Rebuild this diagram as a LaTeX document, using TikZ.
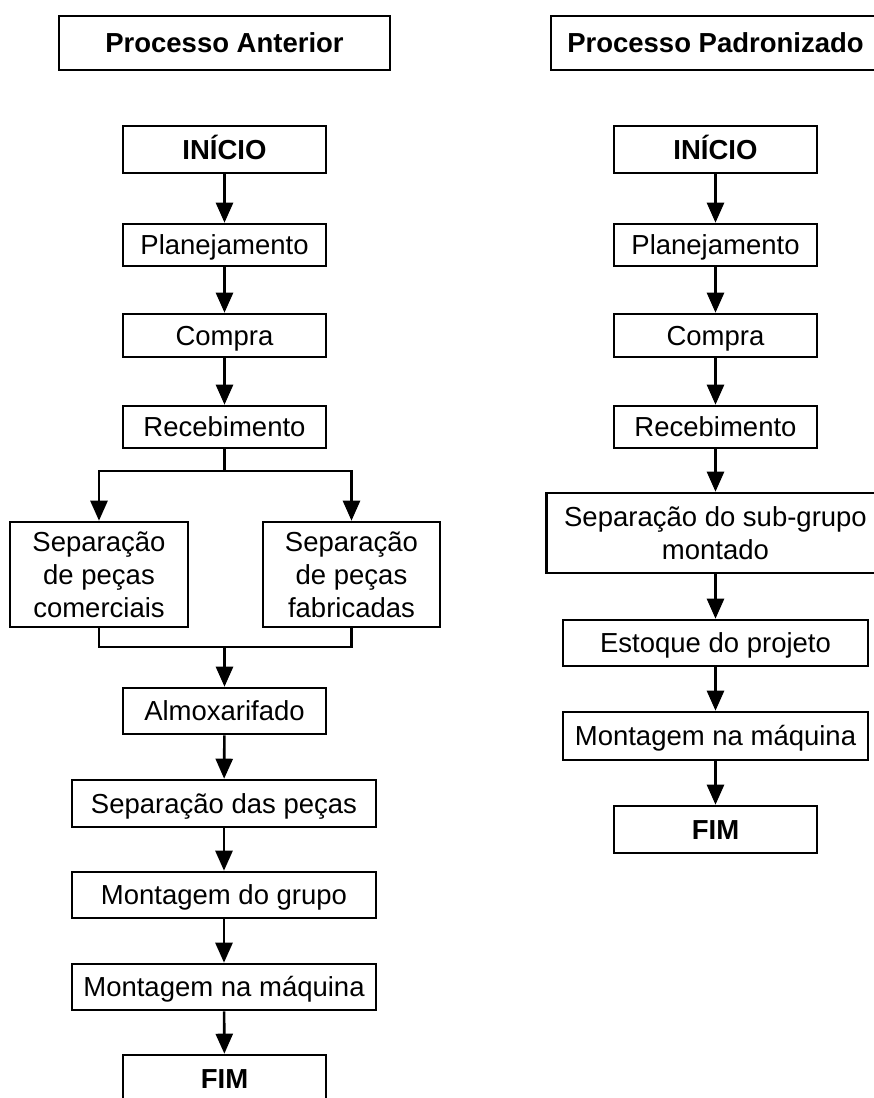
\documentclass[tikz,border=0pt]{standalone}
\usepackage{fontspec}
\setmainfont{Liberation Sans}
\usetikzlibrary{arrows.meta}

\tikzset{
  box/.style={draw, line width=2.6pt, inner sep=0pt, align=center,
    font=\fontsize{27.5}{33}\selectfont},
  oneline/.style={box, text height=19.7pt, text depth=0pt},
  boldbox/.style={oneline, font=\fontsize{27.5}{33}\selectfont\bfseries},
  arr/.style={-{Triangle[length=20pt,width=17pt]}},
  conn/.style={line width=2.6pt}
}

\begin{document}
\begin{tikzpicture}[x=1pt, y=-1pt]
\clip (0,0) rectangle (874,1098);
\fill[white] (0,0) rectangle (874,1098);

% Left flow: previous process
\node[boldbox, minimum width=331pt, minimum height=54pt] (titleA) at (224.5,43) {Processo Anterior};
\node[boldbox, minimum width=203pt, minimum height=47pt] (startA) at (224.5,149.5) {INÍCIO};
\node[oneline, minimum width=203pt, minimum height=42pt] (planA) at (224.5,245) {Planejamento};
\node[oneline, minimum width=203pt, minimum height=43pt] (compA) at (224.5,335.5) {Compra};
\node[oneline, minimum width=203pt, minimum height=42pt] (recA) at (224.5,427) {Recebimento};
\node[box, minimum width=178pt, minimum height=105pt] (comA) at (99,574.5) {Separação\\de peças\\comerciais};
\node[box, minimum width=177pt, minimum height=105pt] (fabA) at (351.5,574.5) {Separação\\de peças\\fabricadas};
\node[oneline, minimum width=203pt, minimum height=46pt] (almA) at (224.5,711) {Almoxarifado};
\node[oneline, minimum width=304pt, minimum height=47pt] (sepA) at (224,803.5) {Separação das peças};
\node[oneline, minimum width=304pt, minimum height=46pt] (mgA) at (224,895) {Montagem do grupo};
\node[oneline, minimum width=304pt, minimum height=46pt] (mmA) at (224,987) {Montagem na máquina};
\node[boldbox, minimum width=203pt, minimum height=47pt] (fimA) at (224.5,1078.5) {FIM};

\coordinate (splitA) at (224.5,471);
\coordinate (joinA) at (224.5,647);

\begin{scope}[conn]
\draw[arr] (startA) -- (planA);
\draw[arr] (planA) -- (compA);
\draw[arr] (compA) -- (recA);
\draw (recA.south) -- (splitA);
\draw[arr] (splitA) -| (comA.north);
\draw[arr] (splitA) -| (fabA.north);
\draw (comA.south) |- (joinA);
\draw (fabA.south) |- (joinA);
\draw[arr] (joinA) -- (almA.north);
\draw[arr] (almA) -- (sepA);
\draw[arr] (sepA) -- (mgA);
\draw[arr] (mgA) -- (mmA);
\draw[arr] (mmA) -- (fimA);
\end{scope}

% Right flow: standardized process
\node[boldbox, minimum width=329pt, minimum height=54pt] (titleB) at (715.5,43) {Processo Padronizado};
\node[boldbox, minimum width=203pt, minimum height=47pt] (startB) at (715.5,149.5) {INÍCIO};
\node[oneline, minimum width=203pt, minimum height=42pt] (planB) at (715.5,245) {Planejamento};
\node[oneline, minimum width=203pt, minimum height=43pt] (compB) at (715.5,335.5) {Compra};
\node[oneline, minimum width=203pt, minimum height=42pt] (recB) at (715.5,427) {Recebimento};
\node[box, minimum width=338pt, minimum height=80pt] (subB) at (715.5,533) {Separação do sub-grupo\\montado};
\node[oneline, minimum width=305pt, minimum height=46pt] (estB) at (715.5,643) {Estoque do projeto};
\node[oneline, minimum width=305pt, minimum height=48pt] (mnB) at (715.5,736) {Montagem na máquina};
\node[boldbox, minimum width=203pt, minimum height=47pt] (fimB) at (715.5,829.5) {FIM};

\begin{scope}[conn]
\draw[arr] (startB) -- (planB);
\draw[arr] (planB) -- (compB);
\draw[arr] (compB) -- (recB);
\draw[arr] (recB) -- (subB);
\draw[arr] (subB) -- (estB);
\draw[arr] (estB) -- (mnB);
\draw[arr] (mnB) -- (fimB);
\end{scope}
\end{tikzpicture}
\end{document}
